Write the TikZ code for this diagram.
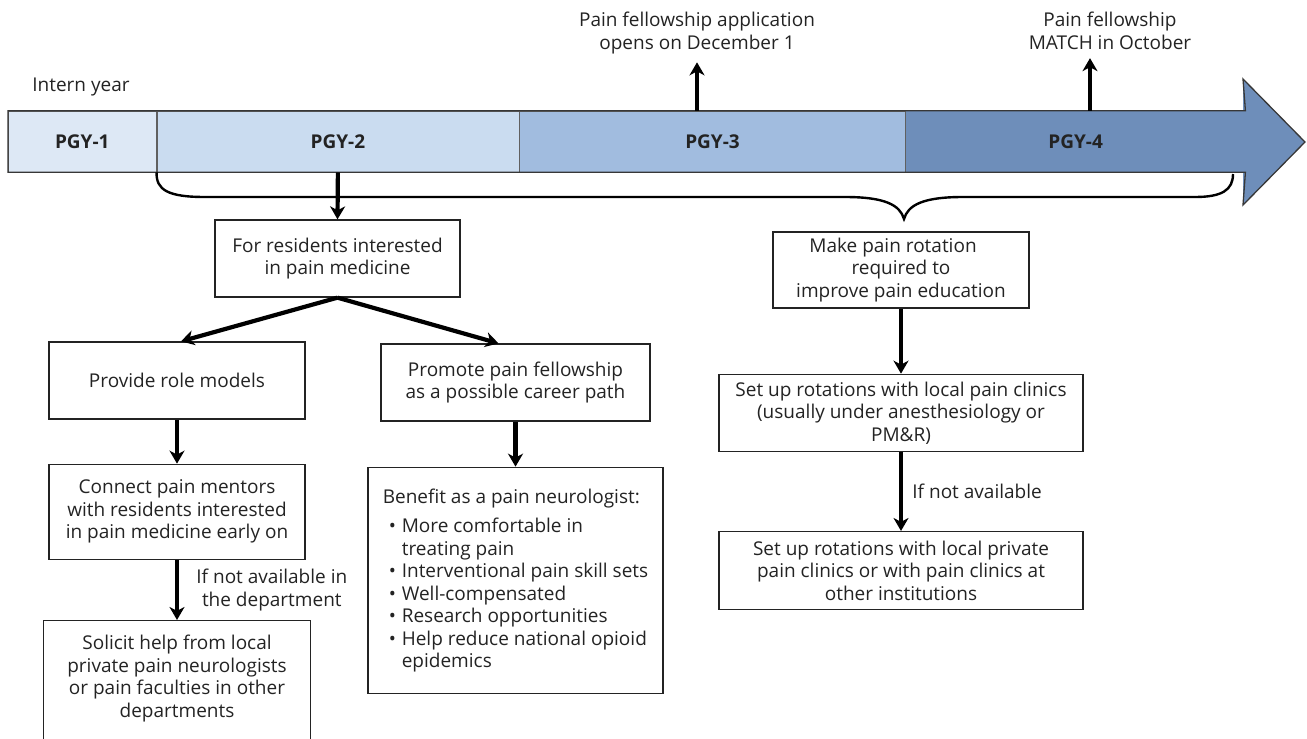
\documentclass[tikz,border=0pt]{standalone}
\usepackage{fontspec}
\setmainfont{Open Sans}
\usetikzlibrary{positioning,arrows.meta}

\definecolor{pgyone}{RGB}{221,232,245}
\definecolor{pgytwo}{RGB}{202,220,240}
\definecolor{pgythree}{RGB}{161,188,223}
\definecolor{pgyfour}{RGB}{110,142,186}
\definecolor{barline}{RGB}{55,55,55}
\definecolor{ink}{RGB}{35,35,35}

\newcommand{\benitem}[1]{\hspace*{6pt}\makebox[13pt][l]{•}#1}
\newcommand{\benmore}[1]{\hspace*{19pt}#1}

\begin{document}
\begin{tikzpicture}[x=1pt,y=-1pt,font=\fontsize{19}{22.5}\selectfont,text=ink,
    year/.style={minimum height=61pt,inner sep=0pt,draw=gray!75!black,line width=0.6pt,font=\fontsize{19}{22.5}\selectfont\bfseries},
    box/.style={draw=ink,line width=1.3pt,align=center,inner sep=0pt},
    flow/.style={-{Stealth[length=13pt,width=15pt,inset=4pt]},line width=4.2pt,draw=black},
    note/.style={align=center}]
  \useasboundingbox (0,0) rectangle (1307,739);
  \clip (0,0) rectangle (1307,739);

  % the four years
  \node (intern) at (81,87) {Intern year};
  \node[year,fill=pgyone,minimum width=148pt,anchor=west] (pgy1) at (8,141.5) {PGY-1};
  \node[year,fill=pgytwo,minimum width=362pt,right=0pt of pgy1] (pgy2) {PGY-2};
  \node[year,fill=pgythree,minimum width=386pt,right=0pt of pgy2] (pgy3) {PGY-3};
  \node[year,fill=pgyfour,draw=none,minimum width=339pt,right=0pt of pgy3] (pgy4) {PGY-4};
  \coordinate (headtop) at (1243,79);
  \coordinate (headtip) at (1305,142);
  \coordinate (headbot) at (1243,205);
  \fill[pgyfour] (headtop) -- (headtip) -- (headbot) -- cycle;
  \draw[barline,line width=1.3pt,line join=miter] (pgy1.north west) -- (pgy4.north east) -- (headtop) -- (headtip)
    -- (headbot) -- (pgy4.south east) -- (pgy1.south west) -- cycle;

  % dates above the bar
  \node[note] (appl) at (697,33) {Pain fellowship application\\opens on December 1};
  \node[note] (match) at (1110,31) {Pain fellowship\\MATCH in October};
  \coordinate (matchup) at ([xshift=-20pt]match.south);
  \draw[flow,shorten >=5pt] (pgy3.north -| appl.south) -- (appl.south);
  \draw[flow,shorten >=5pt] (pgy4.north -| matchup) -- (matchup);

  % brace under PGY-2 to PGY-4
  \coordinate (bracetip) at (904,219);
  \draw[line width=2.4pt] (pgy2.south west) .. controls (156,190) and (168,197) .. (205,197)
    -- (845,197) .. controls (885,197) and (900,205) .. (bracetip)
    .. controls (908,205) and (923,197) .. (963,197)
    -- (1195,197) .. controls (1222,197) and (1233,190) .. (1233,174);

  % left branch
  \node[box,minimum width=245pt,minimum height=77pt] (res) at (337.5,258.5) {For residents interested\\in pain medicine};
  \node[box,minimum width=256pt,minimum height=77pt] (roles) at (177,380.5) {Provide role models};
  \node[box,minimum width=256pt,minimum height=95pt,below=44pt of roles] (connect) {Connect pain mentors\\with residents interested\\in pain medicine early on};
  \node[box,minimum width=267pt,minimum height=134pt,below=60pt of connect] (solicit) {Solicit help from local\\private pain neurologists\\or pain faculties in other\\departments\\\mbox{}};
  \node[box,minimum width=269pt,minimum height=77pt] (promote) at (515.5,382.5) {Promote pain fellowship\\as a possible career path};
  \node[box,minimum width=295pt,minimum height=226pt,align=left,below=45pt of promote] (benefit) {Benefit as a pain neurologist:\\[7pt]
    \benitem{More comfortable in}\\
    \benmore{treating pain}\\
    \benitem{Interventional pain skill sets}\\
    \benitem{Well-compensated}\\
    \benitem{Research opportunities}\\
    \benitem{Help reduce national opioid}\\
    \benmore{epidemics}};

  % right branch
  \node[box,minimum width=256pt,minimum height=76pt] (make) at (901,270) {Make pain rotation\hspace*{16pt}\\required to\hspace*{20pt}\\improve pain education};
  \node[box,minimum width=364pt,minimum height=77pt,below=65pt of make] (setup) {Set up rotations with local pain clinics\\(usually under anesthesiology or\\PM\&R)};
  \node[box,minimum width=364pt,minimum height=78pt,below=79pt of setup] (private) {Set up rotations with local private\\pain clinics or with pain clinics at\\other institutions};

  % connectors
  \draw[flow] (pgy2.south) -- (res.north);
  \draw[flow] (res.south) -- ([xshift=4pt]roles.north);
  \draw[flow] (res.south) -- ([xshift=-17pt]promote.north);
  \draw[flow] (roles) -- (connect);
  \draw[flow] (connect.south) -- (connect.south |- solicit.north)
    node[midway,right=14pt,note] {If not available in\\the department};
  \draw[flow] (promote) -- (benefit);
  \draw[flow] (make) -- (setup);
  \draw[flow] (setup) -- (private) node[midway,right=6pt] {If not available};
\end{tikzpicture}
\end{document}
